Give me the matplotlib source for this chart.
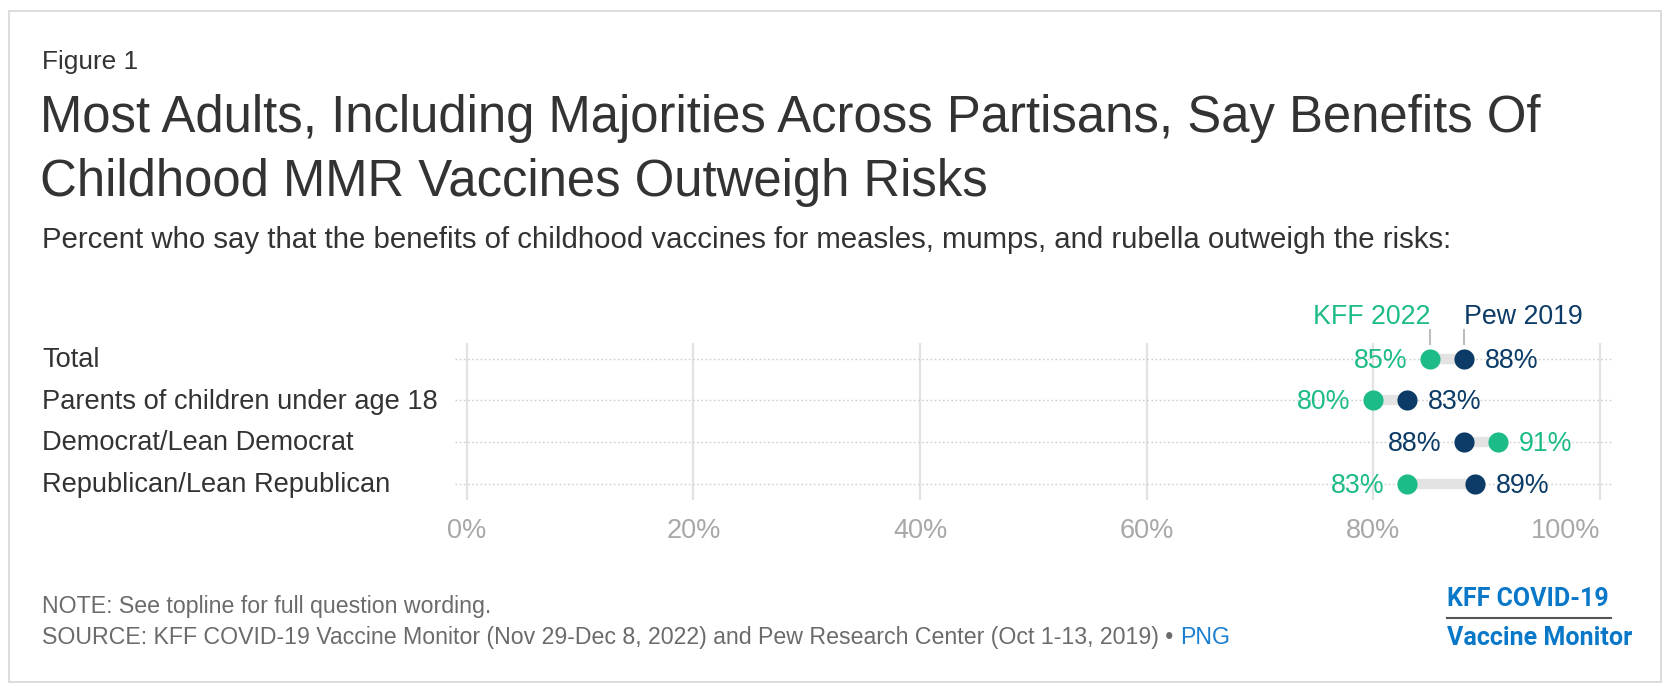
import matplotlib.pyplot as plt
from matplotlib.lines import Line2D
from matplotlib.patches import Rectangle

plt.rcParams['font.family'] = ['Liberation Sans', 'DejaVu Sans']

# survey results, percent saying benefits outweigh risks
groups = ["Total", "Parents of children under age 18",
          "Democrat/Lean Democrat", "Republican/Lean Republican"]
kff_2022 = [85, 80, 91, 83]
pew_2019 = [88, 83, 88, 89]
x_ticks = [0, 20, 40, 60, 80, 100]
x_tick_labels = ["0%", "20%", "40%", "60%", "80%", "100%"]

GREEN = "#1dbb88"
NAVY = "#0b3b66"
TEXT = "#333333"
W, H = 1668, 686
PT = 72 / 100  # points per pixel at dpi=100

fig = plt.figure(figsize=(W / 100, H / 100), dpi=100)


def fx(x):
    return x / W


def fy(y):
    return 1 - y / H


# outer frame
fig.patches.append(Rectangle((fx(9), fy(682)), fx(1661) - fx(9), fy(11) - fy(682),
                             transform=fig.transFigure, fill=False,
                             edgecolor="#d6d6d6", linewidth=1.2))

fig.text(fx(42), fy(68.5), "Figure 1", fontsize=18.9, color=TEXT, va="baseline")
fig.text(fx(40), fy(132), "Most Adults, Including Majorities Across Partisans, Say Benefits Of",
         fontsize=36.6, color=TEXT, va="baseline")
fig.text(fx(40), fy(196), "Childhood MMR Vaccines Outweigh Risks",
         fontsize=36.6, color=TEXT, va="baseline")
fig.text(fx(42), fy(248.5),
         "Percent who say that the benefits of childhood vaccines for measles, mumps, and rubella outweigh the risks:",
         fontsize=21.2, color=TEXT, va="baseline")

# plot area: 0% at x=466.7px, 100% at x=1600px
px_per_unit = (1600 - 466.7) / 100
ax_left, ax_right = 455, 1612
row_top, row_step = 358.5, 41.67
ylim_top, ylim_bot = -0.38, 3.4
ax_top = row_top + ylim_top * row_step
ax_bot = row_top + ylim_bot * row_step
ax = fig.add_axes([fx(ax_left), fy(ax_bot), fx(ax_right) - fx(ax_left), fy(ax_top) - fy(ax_bot)])
ax.set_xlim(-(466.7 - ax_left) / px_per_unit, 100 + (ax_right - 1600) / px_per_unit)
ax.set_ylim(ylim_bot, ylim_top)
ax.axis("off")

for t in x_ticks:
    ax.axvline(t, color="#e2e2e2", linewidth=1.6, zorder=1)

for i in range(len(groups)):
    ax.axhline(i, color="#cfcfcf", linewidth=1.0, linestyle=(0, (1.2, 1.8)), zorder=1)

val_size = 19.3
for i, (k, p) in enumerate(zip(kff_2022, pew_2019)):
    ax.plot([k, p], [i, i], color="#e3e3e3", linewidth=7.5, solid_capstyle="butt", zorder=2)
    ax.plot(k, i, "o", color=GREEN, markersize=14.5, markeredgewidth=0, zorder=3)
    ax.plot(p, i, "o", color=NAVY, markersize=14.5, markeredgewidth=0, zorder=3)
    lo_val, lo_col = (k, GREEN) if k <= p else (p, NAVY)
    hi_val, hi_col = (p, NAVY) if k <= p else (k, GREEN)
    ax.annotate(f"{lo_val}%", (lo_val, i), xytext=(-23 * PT, -9 * PT), textcoords="offset points",
                ha="right", va="baseline", fontsize=val_size, color=lo_col)
    ax.annotate(f"{hi_val}%", (hi_val, i), xytext=(21 * PT, -9 * PT), textcoords="offset points",
                ha="left", va="baseline", fontsize=val_size, color=hi_col)
    fig.text(fx(42), fy(row_top + i * row_step + 8.5), groups[i], fontsize=19.6,
             color=TEXT, va="baseline")

# series key above the first row
for val, col, name, ha in [(kff_2022[0], GREEN, "KFF 2022", "right"),
                           (pew_2019[0], NAVY, "Pew 2019", "left")]:
    ax.add_line(Line2D([val, val], [-14.5 / row_step, -28.5 / row_step],
                       color="#bdbdbd", linewidth=1.5, clip_on=False))
    ax.annotate(name, (val, 0), xytext=(0, 34 * PT), textcoords="offset points",
                ha=ha, va="baseline", fontsize=val_size, color=col, annotation_clip=False)

for t, lab in zip(x_ticks, x_tick_labels):
    ha = "right" if t == x_ticks[-1] else "center"
    fig.text(fx(466.7 + t * px_per_unit), fy(538), lab, ha=ha, va="baseline",
             fontsize=19.5, color="#a8a8a8")

fig.text(fx(42), fy(613), "NOTE: See topline for full question wording.",
         fontsize=16.7, color="#6b6b6b", va="baseline")
src = fig.text(fx(42), fy(644),
               "SOURCE: KFF COVID-19 Vaccine Monitor (Nov 29-Dec 8, 2022) and Pew Research Center (Oct 1-13, 2019) \u2022 ",
               fontsize=16.7, color="#6b6b6b", va="baseline")
fig.canvas.draw()
bb = src.get_window_extent()
fig.text(bb.x1 / W, fy(644), "PNG", fontsize=16.7, color="#1a7fd0", va="baseline")

# logo block
BLUE = "#0a78c8"
fig.text(fx(1447), fy(606.5), "KFF COVID-19", fontsize=18, fontweight="bold",
         color=BLUE, va="baseline", family=["Roboto", "DejaVu Sans"])
fig.lines.append(Line2D([fx(1447), fx(1611)], [fy(618), fy(618)], transform=fig.transFigure,
                        color="#555555", linewidth=1.5))
fig.text(fx(1447), fy(645), "Vaccine Monitor", fontsize=18, fontweight="bold",
         color=BLUE, va="baseline", family=["Roboto", "DejaVu Sans"])

fig.savefig("out.png", dpi=100, facecolor="white")
